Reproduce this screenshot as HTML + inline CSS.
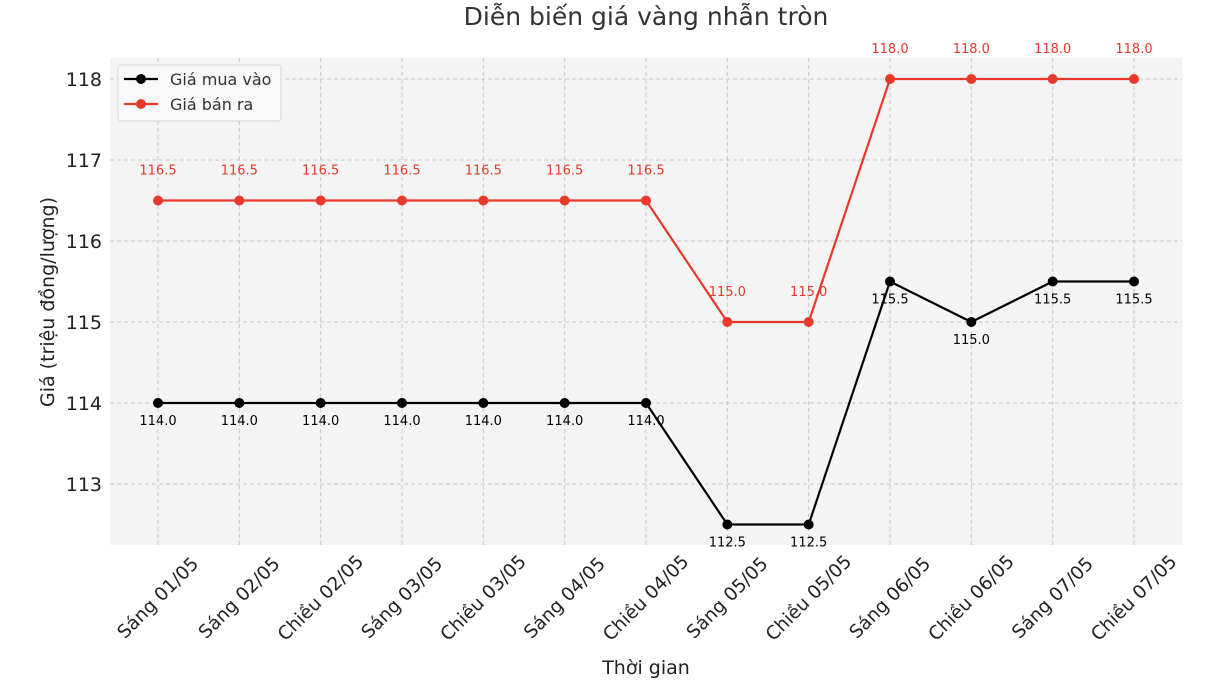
<!DOCTYPE html>
<html><head><meta charset="utf-8"><style>
html,body{margin:0;padding:0;background:#fff}
svg{display:block;font-family:"DejaVu Sans","Liberation Sans",sans-serif}
</style></head><body>
<svg id="c" width="1208" height="688"></svg>
<script>
const categories=["Sáng 01/05","Sáng 02/05","Chiều 02/05","Sáng 03/05","Chiều 03/05","Sáng 04/05","Chiều 04/05","Sáng 05/05","Chiều 05/05","Sáng 06/05","Chiều 06/05","Sáng 07/05","Chiều 07/05"];
const buyValues=[114.0,114.0,114.0,114.0,114.0,114.0,114.0,112.5,112.5,115.5,115.0,115.5,115.5];
const sellValues=[116.5,116.5,116.5,116.5,116.5,116.5,116.5,115.0,115.0,118.0,118.0,118.0,118.0];
const yTicks=[113,114,115,116,117,118];
const NS="http://www.w3.org/2000/svg";
const svg=document.getElementById('c');
const L=110,R=1182,T=58,B=545;
const x=i=>158+i*(1134-158)/(categories.length-1);
const y=v=>79+(118-v)*81;
function el(t,a,p){const e=document.createElementNS(NS,t);for(const k in a)e.setAttribute(k,a[k]);(p||svg).appendChild(e);return e;}
const bg=el('rect',{x:L,y:T,width:R-L,height:B-T,fill:'#f4f4f4'});


const title=el('text',{x:646,y:25,'text-anchor':'middle','font-size':25,fill:'#333'});
title.textContent='Diễn biến giá vàng nhẫn tròn';


yTicks.forEach(v=>{
  const g=el('line',{x1:L,x2:R,y1:y(v),y2:y(v),stroke:'#c8c8c8','stroke-dasharray':'4 3','stroke-width':1});
  
  
  const t=el('text',{x:L-8,y:y(v)+7,'text-anchor':'end','font-size':19,fill:'#222'});
  t.textContent=v;
  
  
});
categories.forEach((c,i)=>{
  const g=el('line',{x1:x(i),x2:x(i),y1:T,y2:B,stroke:'#c8c8c8','stroke-dasharray':'4 3','stroke-width':1});
  
  
  const cx=x(i),cy=598;
  const t=el('text',{x:cx,y:cy+6,'text-anchor':'middle','font-size':18.5,fill:'#222',transform:`rotate(-45 ${cx} ${cy})`});
  t.textContent=c;
  
  
});
const yt=el('text',{x:0,y:0,'text-anchor':'middle','font-size':19,fill:'#222',transform:'translate(54 302) rotate(-90)'});
yt.textContent='Giá (triệu đồng/lượng)';


const xt=el('text',{x:646,y:674,'text-anchor':'middle','font-size':19,fill:'#222'});
xt.textContent='Thời gian';


function series(vals,color,name,dy){
  const line=el('polyline',{points:vals.map((v,i)=>x(i)+','+y(v)).join(' '),fill:'none',stroke:color,'stroke-width':2.2});
  
  
  vals.forEach((v,i)=>{
    const p=el('circle',{cx:x(i),cy:y(v),r:5,fill:color});
    
    
    const t=el('text',{x:x(i),y:y(v)+dy,'text-anchor':'middle','font-size':13,fill:color});
    t.textContent=v.toFixed(1);
    
    
  });
}
series(buyValues,'#000','buy',22);
series(sellValues,'#e8392b','sell',-26);
const lg=el('g',{});


el('rect',{x:118,y:65,width:163,height:56,rx:3,fill:'#f8f8f8',stroke:'#d8d8d8'},lg);
[['Giá mua vào','#000',79],['Giá bán ra','#e8392b',104]].forEach(([n,c,yy])=>{
  const e=el('g',{},lg);
  
  
  el('line',{x1:124,x2:158,y1:yy,y2:yy,stroke:c,'stroke-width':2.2},e);
  el('circle',{cx:141,cy:yy,r:5,fill:c},e);
  const t=el('text',{x:170,y:yy+6,'font-size':16,fill:'#333'},e);
  t.textContent=n;
});
</script>
</body></html>
